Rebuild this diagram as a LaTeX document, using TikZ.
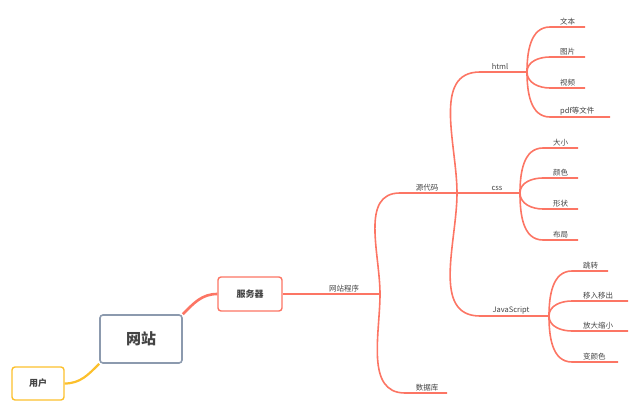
\documentclass[tikz,border=0pt]{standalone}
\usepackage{fontspec}
\setmainfont{Noto Sans CJK SC}
\definecolor{salmon}{HTML}{FC7564}
\definecolor{gold}{HTML}{FCC02C}
\definecolor{slate}{HTML}{8C9AAE}
\definecolor{txt}{HTML}{444444}
\begin{document}
\begin{tikzpicture}[%
x=1pt, y=-1pt,
branch/.style={draw=salmon, line width=1.6pt},
lbl/.style={font=\fontsize{7.5}{8}\selectfont, text=txt, anchor=south, inner sep=2pt},
box/.style={draw, rounded corners=3pt, line width=1.4pt, font=\bfseries, text=txt, inner sep=0pt},
]
\useasboundingbox (0,0) rectangle (638,404);
%% boxes;
\node [box, draw=gold, minimum width=52pt, minimum height=33pt, font=\bfseries\fontsize{9}{10}\selectfont] (user) at (38,383.5) {用户};
\node [box, draw=slate, line width=1.6pt, minimum width=82pt, minimum height=48pt, font=\bfseries\fontsize{15}{16}\selectfont] (site) at (141,339) {网站};
\node [box, draw=salmon, minimum width=64pt, minimum height=34pt, font=\bfseries\fontsize{9}{10}\selectfont] (server) at (250,294) {服务器};
\draw [draw=gold, line width=2.2pt] (user.east) to[out=0, in=225] (site.south west);
\draw [draw=salmon, line width=2.6pt] (site.north east) to[out=45, in=180] (server.west);
%% branch points;
\coordinate (prog) at (380,294);
\coordinate (src) at (457,193);
\coordinate (html) at (527,72);
\coordinate (css) at (520,193);
\coordinate (js) at (549,316);
\coordinate (db) at (447,393);
%% level one;
\draw [branch] (server.east) -- (prog);
\node [lbl] (progt) at (344,294) {网站程序};
\draw [branch] (prog) to[out=90, in=180] (400,193) -- (src);
\node [lbl] (srct) at (427,193) {源代码};
\draw [branch] (prog) to[out=-90, in=180] (405,393) -- (db);
\node [lbl] (dbt) at (427,393) {数据库};
%% level two;
\draw [branch] (src) to[out=90, in=180] (480,72) -- (html);
\node [lbl] (htmlt) at (500,72) {html};
\draw [branch] (src) -- (css);
\node [lbl] (csst) at (497,193) {css};
\draw [branch] (src) to[out=-90, in=180] (480,316) -- (js);
\node [lbl] (jst) at (511,316) {JavaScript};
%% leaves;
\foreach \y/\e/\t [count=\i] in {27/585/文本, 57/585/图片, 88/585/视频, 117/610/pdf等文件}
{
  \draw [branch] (html) to[out={\y<72 ? 90 : -90}, in=180] (550,\y) -- (\e,\y) coordinate (h\i);
  \node [lbl, anchor=south west] (ht\i) at (558,\y) {\t};
}
\foreach \y/\e/\t [count=\i] in {148/578/大小, 178/578/颜色, 209/578/形状, 240/578/布局}
{
  \draw [branch] (css) to[out={\y<193 ? 90 : -90}, in=180] (543,\y) -- (\e,\y) coordinate (c\i);
  \node [lbl, anchor=south west] (ct\i) at (551,\y) {\t};
}
\foreach \y/\e/\t [count=\i] in {271/608/跳转, 301/628/移入移出, 331/628/放大缩小, 362/618/变颜色}
{
  \draw [branch] (js) to[out={\y<316 ? 90 : -90}, in=180] (572,\y) -- (\e,\y) coordinate (j\i);
  \node [lbl, anchor=south west] (jt\i) at (581,\y) {\t};
}
\end{tikzpicture}
\end{document}
